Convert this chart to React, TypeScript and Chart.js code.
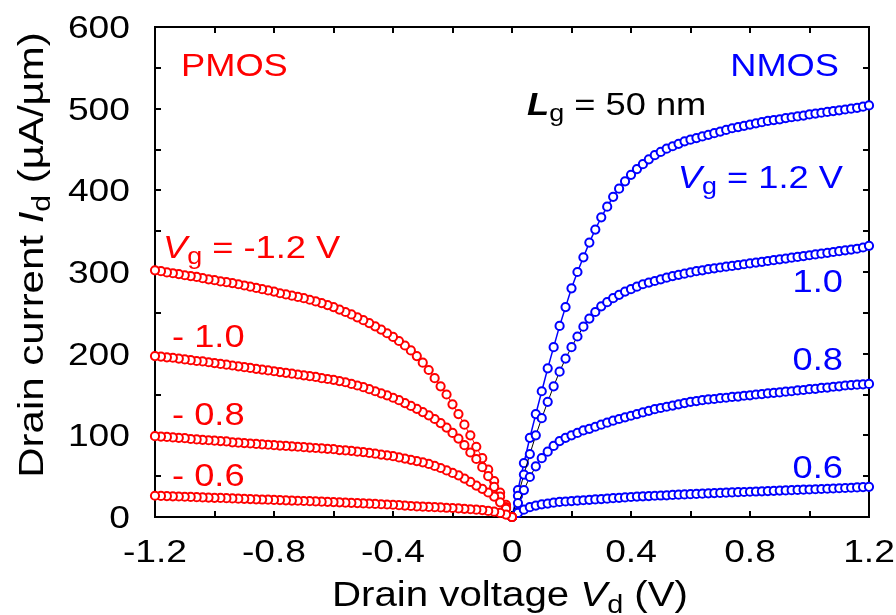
import React, { useEffect, useRef } from "react";
import { Chart, registerables } from "chart.js";

Chart.register(...registerables);

// Drain voltage magnitudes (V)
const VD = [0, 0.02, 0.04, 0.06, 0.08, 0.1, 0.12, 0.14, 0.16, 0.18, 0.2, 0.22, 0.24, 0.26, 0.28, 0.3, 0.32, 0.34, 0.36, 0.38, 0.4, 0.42, 0.44, 0.46, 0.48, 0.5, 0.52, 0.54, 0.56, 0.58, 0.6, 0.62, 0.64, 0.66, 0.68, 0.7, 0.72, 0.74, 0.76, 0.78, 0.8, 0.82, 0.84, 0.86, 0.88, 0.9, 0.92, 0.94, 0.96, 0.98, 1.0, 1.02, 1.04, 1.06, 1.08, 1.1, 1.12, 1.14, 1.16, 1.18, 1.2];

// NMOS drain current (uA/um)
const N_12 = [0, 33, 66, 97, 126, 154, 182, 208, 234, 257, 280, 300, 318, 336, 352, 367, 380, 392, 402, 411, 419, 426, 432, 438, 443, 447, 451, 454, 457, 460, 462, 464, 466, 468, 470, 472, 474, 476, 477.5, 479, 480.5, 482, 483.5, 485, 486, 487, 488.5, 489.5, 490.5, 491.5, 493, 494, 495, 496, 497, 498, 499, 500, 501, 502.5, 504];
const N_10 = [0, 26, 52, 77, 100, 121, 141, 160, 178, 194, 208, 221, 233, 243, 251, 258, 263, 268, 272, 276, 279, 282, 285, 287, 289, 291, 293, 295, 296.5, 298, 299.5, 301, 302, 303.5, 304.5, 305.5, 306.5, 307.5, 308.5, 309.5, 310.5, 311.5, 312.5, 313.5, 314.5, 315.5, 316.5, 317.5, 318.5, 319.5, 320.5, 321.5, 322.5, 323.5, 324.5, 325.5, 326.5, 327.5, 328.5, 330, 332];
const N_08 = [0, 17, 33, 49, 62, 72, 80, 87, 93, 97, 100, 103, 106, 108, 110.5, 113, 115.5, 118, 120, 122, 124, 126, 128, 130, 132, 133.5, 135, 136.5, 138, 139.5, 141, 142, 143, 144, 144.5, 145.5, 146, 147, 147.5, 148.5, 149, 150, 150.5, 151.5, 152, 152.5, 153.5, 154, 155, 155.5, 156.5, 157, 158, 158.5, 159.5, 160, 161, 161.5, 162, 162.5, 163];
const N_06 = [0, 5, 9, 12, 14, 15.5, 16.5, 17.5, 18.5, 19, 19.5, 20, 20.5, 21, 21.5, 22, 22.5, 23, 23.5, 24, 24.5, 25, 25.3, 25.6, 26, 26.3, 26.6, 27, 27.3, 27.6, 28, 28.3, 28.6, 29, 29.3, 29.5, 29.8, 30.1, 30.4, 30.6, 30.9, 31.2, 31.5, 31.8, 32, 32.3, 32.6, 32.9, 33.2, 33.4, 33.7, 34, 34.3, 34.6, 34.9, 35.2, 35.5, 35.8, 36.2, 36.6, 37];

// PMOS |drain current| (uA/um), plotted at negative drain voltage
const P_12 = [0, 15, 30, 44, 58, 72, 86, 100, 113, 126, 138, 150, 160, 170, 180, 189, 197, 204, 210, 215.5, 220.5, 225, 229.5, 233.5, 237.5, 241, 244.5, 248, 251, 254, 257, 259.5, 262, 264, 266, 268, 269.5, 271, 272.5, 274, 276, 277.5, 279, 280.5, 282, 283.5, 285, 286.5, 287.5, 288.5, 290, 291, 292.5, 294, 295, 296, 297.5, 298.5, 299.5, 301, 302];
const P_10 = [0, 12, 25, 37, 50, 61, 71, 79, 88, 96, 103, 109.5, 115, 120, 124.5, 128.5, 132.5, 136, 139.5, 143, 146, 149, 151.5, 154, 156.5, 159, 161, 163, 165, 166.5, 168, 169, 170, 171.5, 172.5, 173.5, 174.5, 175.5, 176.5, 177.5, 178.5, 179.5, 180.5, 181.5, 182.5, 183.5, 184.5, 185.5, 186.5, 187.5, 188.5, 189.5, 190.5, 191, 192, 193, 194, 195, 195.5, 196.5, 197];
const P_08 = [0, 10, 18, 25, 30, 34.5, 38.5, 43, 47, 51, 54, 57, 60, 62.5, 65, 67, 68.5, 70, 71.5, 73, 74.5, 75.5, 76.5, 77.5, 78.5, 79.5, 80, 81, 81.5, 82, 83, 83.5, 84, 84.5, 85, 85.5, 86, 86.5, 87, 87.5, 88, 88.5, 89, 89.5, 90, 90.5, 91, 91.5, 92.5, 93, 93.5, 94, 94.5, 95, 95.5, 96.5, 97, 97.5, 98, 98.5, 99];
const P_06 = [0, 3, 5, 6.5, 7.5, 8.5, 9, 9.5, 10, 10.5, 11, 11.3, 11.7, 12, 12.3, 12.7, 13, 13.5, 14, 14.5, 15, 15.3, 15.6, 16, 16.3, 16.6, 17, 17.3, 17.6, 18, 18.3, 18.6, 18.8, 19.1, 19.4, 19.6, 19.9, 20.1, 20.4, 20.7, 20.9, 21.2, 21.4, 21.7, 22, 22.2, 22.5, 22.7, 23, 23.3, 23.5, 23.8, 24, 24.3, 24.6, 24.8, 25.1, 25.3, 25.6, 25.8, 26];

const X_MIN = -1.2;
const X_MAX = 1.2;
const Y_MIN = 0;
const Y_MAX = 600;
const X_LABEL_STEP = 0.4;
const X_MINOR_STEP = 0.2;
const Y_LABEL_STEP = 100;
const Y_MINOR_STEP = 50;

const RED = "#ff0000";
const BLUE = "#0000ff";
const FAMILY = '"Liberation Sans", Arial, sans-serif';

type Part = { t: string; size: number; italic?: boolean; bold?: boolean; dy?: number };

function fontOf(p: Part) {
  return `${p.italic ? "italic " : ""}${p.bold ? "bold " : ""}${p.size}px ${FAMILY}`;
}

function drawRich(
  ctx: CanvasRenderingContext2D,
  parts: Part[],
  x: number,
  y: number,
  align: "left" | "right" | "center",
  color: string,
  sx: number,
  rot = 0
) {
  ctx.save();
  ctx.translate(x, y);
  if (rot) ctx.rotate(rot);
  ctx.scale(sx, 1);
  ctx.fillStyle = color;
  ctx.textBaseline = "alphabetic";
  ctx.textAlign = "left";
  let w = 0;
  for (const p of parts) {
    ctx.font = fontOf(p);
    w += ctx.measureText(p.t).width;
  }
  let cx = align === "left" ? 0 : align === "right" ? -w : -w / 2;
  for (const p of parts) {
    ctx.font = fontOf(p);
    ctx.fillText(p.t, cx, p.dy || 0);
    cx += ctx.measureText(p.t).width;
  }
  ctx.restore();
}

const framePlugin = {
  id: "frameTicks",
  beforeDatasetsDraw(chart: any) {
    const { ctx, chartArea: a, scales } = chart;
    const xs = scales.x;
    const ys = scales.y;
    const L = Math.round(a.left);
    const R = Math.round(a.right);
    const T = Math.round(a.top);
    const B = Math.round(a.bottom);
    ctx.save();
    ctx.fillStyle = "#000";
    ctx.fillRect(L - 1, T - 1, R - L + 2, 2);
    ctx.fillRect(L - 1, B - 1, R - L + 2, 2);
    ctx.fillRect(L - 1, T - 1, 2, B - T + 2);
    ctx.fillRect(R - 1, T - 1, 2, B - T + 2);
    const tl = 6;
    const nx = Math.round((X_MAX - X_MIN) / X_MINOR_STEP);
    for (let i = 0; i <= nx; i++) {
      const px = Math.round(xs.getPixelForValue(X_MIN + i * X_MINOR_STEP));
      ctx.fillRect(px - 1, B - tl, 2, tl);
      ctx.fillRect(px - 1, T, 2, tl);
    }
    const ny = Math.round((Y_MAX - Y_MIN) / Y_MINOR_STEP);
    for (let i = 0; i <= ny; i++) {
      const py = Math.round(ys.getPixelForValue(Y_MIN + i * Y_MINOR_STEP));
      ctx.fillRect(L, py - 1, tl, 2);
      ctx.fillRect(R - tl, py - 1, tl, 2);
    }
    ctx.restore();
  },
  afterDraw(chart: any) {
    const { ctx, scales } = chart;
    const xs = scales.x;
    const ys = scales.y;
    const TS = 31;
    const SX = 1.2;
    // tick labels
    for (const t of xs.ticks) {
      const v = t.value;
      const lab = Math.abs(v) < 1e-9 ? "0" : v.toFixed(1);
      drawRich(ctx, [{ t: lab, size: TS }], xs.getPixelForValue(v), 562, "center", "#000", SX);
    }
    for (const t of ys.ticks) {
      const v = t.value;
      drawRich(ctx, [{ t: String(Math.round(v)), size: TS }], 130, ys.getPixelForValue(v) + 11, "right", "#000", SX);
    }
    // axis titles
    const AT = 35;
    drawRich(
      ctx,
      [
        { t: "Drain voltage ", size: AT },
        { t: "V", size: AT, italic: true },
        { t: "d", size: 25, dy: 7 },
        { t: " (V)", size: AT },
      ],
      510,
      606,
      "center",
      "#000",
      1.15
    );
    drawRich(
      ctx,
      [
        { t: "Drain current ", size: AT },
        { t: "I", size: AT, italic: true },
        { t: "d", size: 25, dy: 7 },
        { t: " (\u00b5A/\u00b5m)", size: AT },
      ],
      43,
      255,
      "center",
      "#000",
      1.2,
      -Math.PI / 2
    );
    // annotations
    const AN = 31;
    const SA = 1.17;
    drawRich(ctx, [{ t: "PMOS", size: AN }], 181, 76, "left", RED, SA);
    drawRich(ctx, [{ t: "NMOS", size: AN }], 839, 76, "right", BLUE, SA);
    drawRich(
      ctx,
      [
        { t: "L", size: AN, italic: true, bold: true },
        { t: "g", size: 23, dy: 6 },
        { t: " = 50 nm", size: AN },
      ],
      527,
      115,
      "left",
      "#000",
      SA
    );
    drawRich(
      ctx,
      [
        { t: "V", size: AN, italic: true },
        { t: "g", size: 23, dy: 6 },
        { t: " = 1.2 V", size: AN },
      ],
      843,
      188,
      "right",
      BLUE,
      SA
    );
    drawRich(ctx, [{ t: "1.0", size: AN }], 843, 292, "right", BLUE, SA);
    drawRich(ctx, [{ t: "0.8", size: AN }], 843, 370, "right", BLUE, SA);
    drawRich(ctx, [{ t: "0.6", size: AN }], 843, 478, "right", BLUE, SA);
    drawRich(
      ctx,
      [
        { t: "V", size: AN, italic: true },
        { t: "g", size: 23, dy: 6 },
        { t: " = -1.2 V", size: AN },
      ],
      163,
      258,
      "left",
      RED,
      SA
    );
    drawRich(ctx, [{ t: "- 1.0", size: AN }], 172, 347, "left", RED, SA);
    drawRich(ctx, [{ t: "- 0.8", size: AN }], 172, 425, "left", RED, SA);
    drawRich(ctx, [{ t: "- 0.6", size: AN }], 172, 486, "left", RED, SA);
  },
};

function series(vals: number[], sign: number) {
  return VD.map((v, i) => ({ x: sign * v, y: vals[i] }));
}

function ds(vals: number[], sign: number, color: string, lineColor: string, lineWidth: number) {
  return {
    data: series(vals, sign),
    showLine: true,
    borderColor: lineColor,
    borderWidth: lineWidth,
    pointBorderColor: color,
    pointBackgroundColor: "#ffffff",
    pointBorderWidth: 2,
    pointRadius: 4.1,
    tension: 0,
    clip: false,
  };
}

export default function App() {
  const ref = useRef<HTMLCanvasElement | null>(null);
  useEffect(() => {
    document.body.style.margin = "0";
    const canvas = ref.current;
    if (!canvas) return;
    const chart = new Chart(canvas, {
      type: "scatter",
      data: {
        datasets: [
          ds(P_06, -1, RED, RED, 1),
          ds(P_08, -1, RED, RED, 1),
          ds(P_10, -1, RED, RED, 1),
          ds(P_12, -1, RED, RED, 1),
          ds(N_06, 1, BLUE, "#000", 1),
          ds(N_08, 1, BLUE, "#000", 1),
          ds(N_10, 1, BLUE, "#000", 1),
          ds(N_12, 1, BLUE, BLUE, 1.5),
        ] as any,
      },
      options: {
        responsive: false,
        animation: false,
        devicePixelRatio: 1,
        layout: { padding: { top: 27, right: 27, left: 0, bottom: 0 } },
        plugins: { legend: { display: false }, tooltip: { enabled: false }, title: { display: false } },
        scales: {
          x: {
            type: "linear",
            min: X_MIN,
            max: X_MAX,
            ticks: { stepSize: X_LABEL_STEP, display: false },
            grid: { display: false },
            border: { display: false },
            afterFit: (s: any) => {
              s.height = 98;
            },
          },
          y: {
            type: "linear",
            min: Y_MIN,
            max: Y_MAX,
            ticks: { stepSize: Y_LABEL_STEP, display: false },
            grid: { display: false },
            border: { display: false },
            afterFit: (s: any) => {
              s.width = 155;
            },
          },
        },
      } as any,
      plugins: [framePlugin],
    });
    return () => chart.destroy();
  }, []);
  return (
    <div style={{ width: 896, height: 615, position: "relative", background: "#fff" }}>
      <canvas ref={ref} width={896} height={615} style={{ display: "block" }} />
    </div>
  );
}
